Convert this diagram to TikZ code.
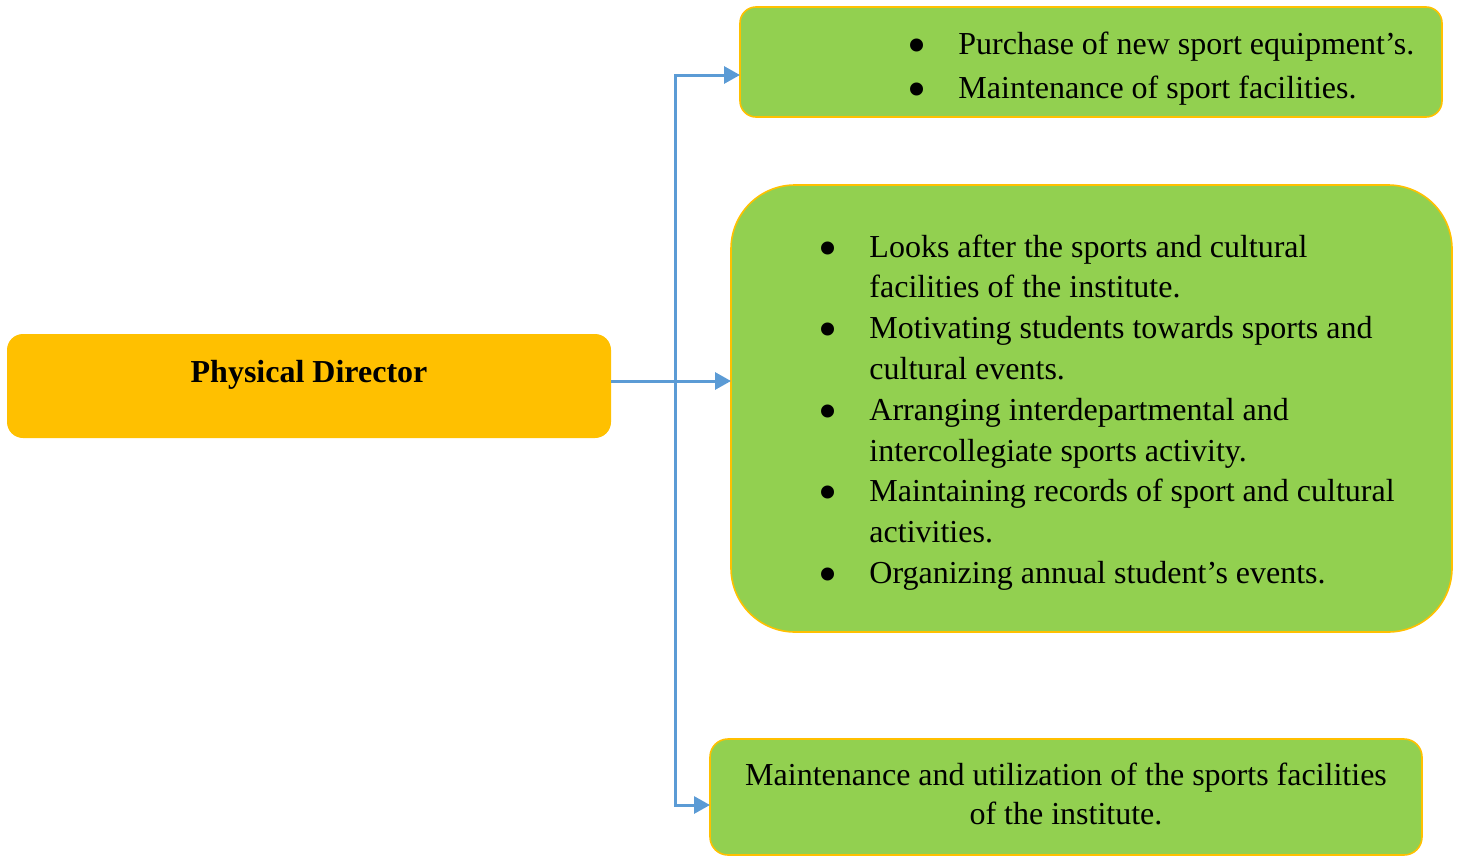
\documentclass[tikz,border=0pt]{standalone}
\usepackage{fontspec}
\usepackage{graphicx}
\setmainfont{Liberation Serif}
\usetikzlibrary{arrows.meta}
\definecolor{dutygreen}{HTML}{92D050}
\definecolor{headorange}{HTML}{FFC000}
\definecolor{linkblue}{HTML}{5B9BD5}
\newcommand{\dutybullet}{\smash{\raisebox{-4.5pt}{\scalebox{1.7}{\textbullet}}}}
\tikzset{
  duty/.style={fill=dutygreen, draw=headorange, line width=0.8pt, inner sep=0pt, outer sep=0pt},
  head/.style={fill=headorange, rounded corners=8pt, inner sep=0pt, outer sep=0pt,
    minimum width=302pt, minimum height=52pt},
  list/.style={inner sep=0pt, anchor=base west},
  link/.style={draw=linkblue, line width=1.5pt, -{Triangle[length=8pt,width=8.5pt]}}
}
\begin{document}
\begin{tikzpicture}[x=0.5pt, y=-0.5pt]
    \useasboundingbox (0,0) rectangle (1457,857);

    % boxes
    \node[head] (pd) at (309,386) {};
    \node[duty, rounded corners=8pt, minimum width=351pt, minimum height=55pt] (buy) at (1091,62) {};
    \node[duty, rounded corners=32pt, minimum width=360.5pt, minimum height=223.5pt] (talk) at (1091.5,408.5) {};
    \node[duty, rounded corners=9pt, minimum width=356pt, minimum height=58pt] (care) at (1066,797) {};

    % texts
    \node[inner sep=0pt, anchor=base, font=\fontsize{16}{20}\selectfont\bfseries] (pdtext) at (309,382) {Physical Director};
    \node[list, font=\fontsize{16}{22}\selectfont] (buytext) at (907.5,54) {%
      \begin{tabular}[t]{@{}l@{\hspace{15.75pt}}l@{}}
        \dutybullet & Purchase of new sport equipment’s.\\
        \dutybullet & Maintenance of sport facilities.
      \end{tabular}};
    \node[list, font=\fontsize{16}{20.4}\selectfont] (talktext) at (818.5,257) {%
      \begin{tabular}[t]{@{}l@{\hspace{15.75pt}}l@{}}
        \dutybullet & Looks after the sports and cultural\\
                    & facilities of the institute.\\
        \dutybullet & Motivating students towards sports and\\
                    & cultural events.\\
        \dutybullet & Arranging interdepartmental and\\
                    & intercollegiate sports activity.\\
        \dutybullet & Maintaining records of sport and cultural\\
                    & activities.\\
        \dutybullet & Organizing annual student’s events.
      \end{tabular}};
    \node[inner sep=0pt, anchor=base, font=\fontsize{16}{19.5}\selectfont] (caretext) at (1066,785) {%
      \begin{tabular}[t]{@{}c@{}}
        Maintenance and utilization of the sports facilities\\
        of the institute.
      \end{tabular}};

    % connectors
    \coordinate (fork) at (675,381);
    \draw[link] ([yshift=2.5pt]pd.east) -- ([yshift=2.5pt]pd.east -| talk.west);
    \draw[link] (fork) |- ([yshift=-6.5pt]buy.west);
    \draw[link] (fork) |- ([yshift=-4pt]care.west);
\end{tikzpicture}
\end{document}
